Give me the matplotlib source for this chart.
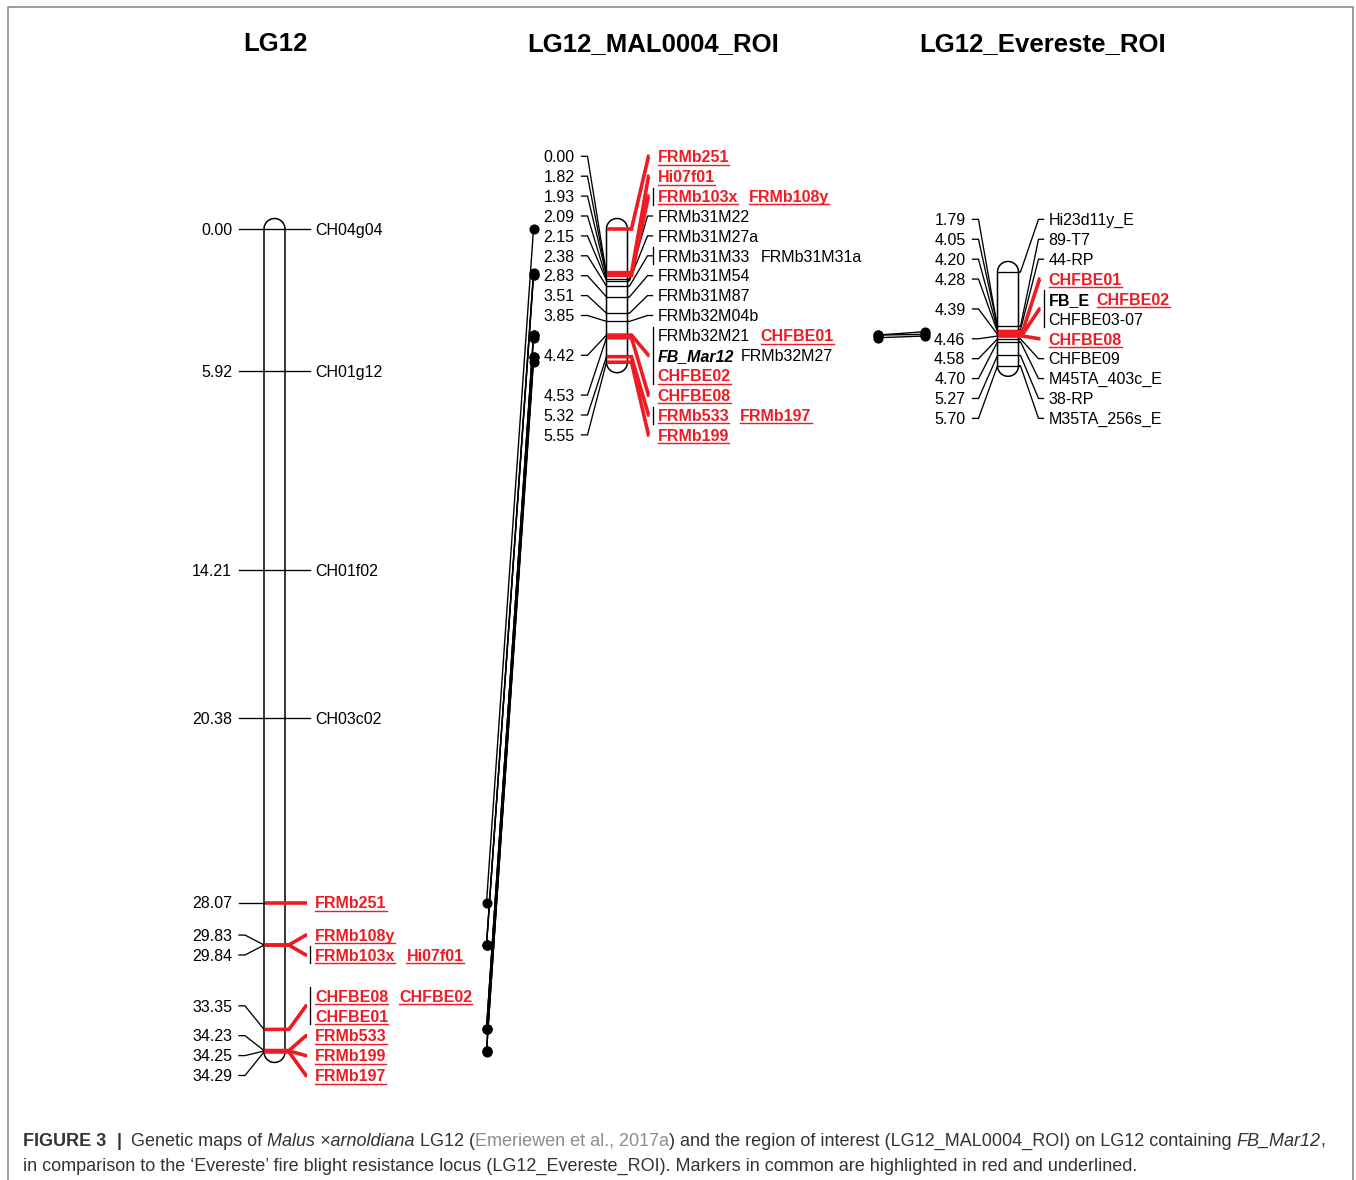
import matplotlib
matplotlib.use("Agg")
import matplotlib.pyplot as plt
import numpy as np

# ---------------- data ----------------
map_titles = ["LG12", "LG12_MAL0004_ROI", "LG12_Evereste_ROI"]

lg12_pos = [0.00, 5.92, 14.21, 20.38, 28.07, 29.83, 29.84, 33.35, 34.23, 34.25, 34.29]
lg12_names = [["CH04g04"], ["CH01g12"], ["CH01f02"], ["CH03c02"], ["FRMb251"],
              ["FRMb108y"], ["FRMb103x", "Hi07f01"], ["CHFBE08", "CHFBE02", "CHFBE01"],
              ["FRMb533"], ["FRMb199"], ["FRMb197"]]
lg12_left_anchor = [0.00, 5.92, 14.21, 20.38, 28.07, 29.83, 29.84, 33.35, 34.23, 34.25, 34.29]

mal_pos = [0.00, 1.82, 1.93, 2.09, 2.15, 2.38, 2.83, 3.51, 3.85, 4.42, 4.53, 5.32, 5.55]
mal_names = [["FRMb251"], ["Hi07f01"], ["FRMb103x", "FRMb108y"], ["FRMb31M22"], ["FRMb31M27a"],
             ["FRMb31M33", "FRMb31M31a"], ["FRMb31M54"], ["FRMb31M87"], ["FRMb32M04b"],
             ["FRMb32M21", "CHFBE01", "FB_Mar12", "FRMb32M27", "CHFBE02"], ["CHFBE08"],
             ["FRMb533", "FRMb197"], ["FRMb199"]]
mal_left_anchor = [1.90, 1.92, 1.93, 2.09, 2.15, 2.38, 2.83, 3.51, 3.85, 4.42, 4.53, 5.32, 5.55]

ev_pos = [1.79, 4.05, 4.20, 4.28, 4.39, 4.46, 4.58, 4.70, 5.27, 5.70]
ev_names = [["Hi23d11y_E"], ["89-T7"], ["44-RP"], ["CHFBE01"], ["FB_E", "CHFBE02", "CHFBE03-07"],
            ["CHFBE08"], ["CHFBE09"], ["M45TA_403c_E"], ["38-RP"], ["M35TA_256s_E"]]
ev_left_anchor = [4.10, 4.05, 4.20, 4.28, 4.39, 4.46, 4.58, 4.70, 5.27, 5.70]

bold_italic_markers = ["FB_Mar12"]
bold_markers = ["FB_E"]

caption_line1 = [("FIGURE 3", "bold"), ("  |  ", "bold"), ("Genetic maps of ", "normal"),
                 ("Malus \u00d7arnoldiana", "italic"), (" LG12 (", "normal"),
                 ("Emeriewen et al., 2017a", "link"),
                 (") and the region of interest (LG12_MAL0004_ROI) on LG12 containing ", "normal"),
                 ("FB_Mar12", "italic"), (",", "normal")]
caption_line2 = [("in comparison to the \u2018Evereste\u2019 fire blight resistance locus "
                  "(LG12_Evereste_ROI). Markers in common are highlighted in red and underlined.", "normal")]

# ---------------- figure ----------------
W, H = 1356, 1180
fig = plt.figure(figsize=(W / 100, H / 100), dpi=100)
ax = fig.add_axes([0, 0, 1, 1])
ax.set_xlim(0, W)
ax.set_ylim(H, 0)
ax.axis("off")
renderer = fig.canvas.get_renderer()

FONT = "Liberation Sans"
RED = "#ED1C24"
FS = 11.5
PX = 100 / 72.0
BASE = 0.36 * FS * PX
Y0, PX_PER_CM = 229.0, 24.0
STEP = 19.9
CW = 21.0
LW = 0.95


def ycm(v):
    return Y0 + PX_PER_CM * v


def twidth(t):
    return t.get_window_extent(renderer=renderer).width


# frame
ax.plot([8, 8, 1353, 1353], [H, 7, 7, H], color="#8c8c8c", lw=1.2, zorder=1)


def chrom_outline(cl, cr, ytop, ybot):
    r = (cr - cl) / 2
    cx = (cl + cr) / 2
    th = np.linspace(np.pi, 0, 40)
    top = np.c_[cx + r * np.cos(th), ytop - r * np.sin(th)]
    th2 = np.linspace(0, np.pi, 40)
    bot = np.c_[cx + r * np.cos(th2), ybot + r * np.sin(th2)]
    pts = np.vstack([top, bot, top[:1]])
    ax.fill(pts[:, 0], pts[:, 1], facecolor="white", edgecolor="black", lw=1.1, zorder=2)


def layout(prefs, nrows):
    n = len(prefs)
    clusters = [[i, i] for i in range(n)]

    def place(c):
        a, b = c
        offs, acc = [], 0.0
        for i in range(a, b + 1):
            offs.append(acc + (nrows[i] - 1) / 2 * STEP)
            acc += nrows[i] * STEP
        top = (prefs[a] + prefs[b]) / 2 - (offs[0] + offs[-1]) / 2
        return top, offs, acc

    changed = True
    while changed:
        changed = False
        for k in range(len(clusters) - 1):
            t1, _, h1 = place(clusters[k])
            t2, _, _ = place(clusters[k + 1])
            if t2 < t1 + h1 - 0.01:
                clusters[k] = [clusters[k][0], clusters[k + 1][1]]
                del clusters[k + 1]
                changed = True
                break
    centers, rows = [0] * n, [None] * n
    for c in clusters:
        top, offs, _ = place(c)
        acc = 0.0
        for j, i in enumerate(range(c[0], c[1] + 1)):
            centers[i] = top + offs[j]
            rows[i] = [top + acc + r * STEP for r in range(nrows[i])]
            acc += nrows[i] * STEP
    return centers, rows


def style_of(name, red):
    if red:
        return dict(color=RED, weight="bold", style="normal"), 11
    if name in bold_italic_markers:
        return dict(color="black", weight="bold", style="italic"), 7
    if name in bold_markers:
        return dict(color="black", weight="bold", style="normal"), 7
    return dict(color="black", weight="normal", style="normal"), 11


maps = [
    dict(title=map_titles[0], pos=lg12_pos, names=lg12_names, anchor=lg12_left_anchor, cl=264.0, tx=275),
    dict(title=map_titles[1], pos=mal_pos, names=mal_names, anchor=mal_left_anchor, cl=606.5, tx=653),
    dict(title=map_titles[2], pos=ev_pos, names=ev_names, anchor=ev_left_anchor, cl=997.5, tx=1043),
]


def all_names(m):
    return {n for grp in m["names"] for n in grp}


for mi, m in enumerate(maps):
    others = set()
    for mj, o in enumerate(maps):
        if mj != mi:
            others |= all_names(o)
    cl = m["cl"]
    cr = cl + CW
    pos, names = m["pos"], m["names"]
    prefs = [ycm(p) for p in pos]
    nrows = [int(np.ceil(len(g) / 2)) for g in names]
    centers, rows = layout(prefs, nrows)

    ax.text(m["tx"], 51, m["title"], ha="center", va="baseline", fontsize=18.5,
            weight="bold", family=FONT)
    chrom_outline(cl, cr, ycm(min(pos)), ycm(max(pos)))

    for i, p in enumerate(pos):
        grp = names[i]
        red = any(n in others for n in grp)
        py, ly = ycm(p), centers[i]
        ax.text(cl - 32, ly + BASE, f"{p:.2f}", ha="right", va="baseline", fontsize=FS,
                family=FONT, color="black")
        ax.plot([cl - 25, cl - 19, cl], [ly, ly, ycm(m["anchor"][i])], color="black",
                lw=LW, zorder=3, solid_joinstyle="miter")
        if red:
            ax.plot([cl + 0.6, cr + 4, cr + 21, cr + 22], [py, py, ly, ly], color=RED, lw=2.6,
                    zorder=5, solid_capstyle="butt", solid_joinstyle="miter")
        else:
            ax.plot([cl, cr], [py, py], color="black", lw=LW, zorder=3)
            ax.plot([cr, cr + 2, cr + 20, cr + 25], [py, py, ly, ly], color="black", lw=LW,
                    zorder=3)
        if len(grp) > 1:
            ax.plot([cr + 25, cr + 25], [rows[i][0] - 8.5, rows[i][-1] + 8.5], color="black",
                    lw=LW, zorder=3)
        for r in range(nrows[i]):
            x = cr + 30
            yb = rows[i][r] + BASE
            for name in grp[2 * r:2 * r + 2]:
                is_red = name in others
                st, gap = style_of(name, is_red)
                t = ax.text(x, yb, name, ha="left", va="baseline", fontsize=FS, family=FONT, **st)
                w = twidth(t)
                if is_red:
                    ax.plot([x, x + w], [yb + 2.6, yb + 2.6], color=RED, lw=1.0, zorder=3)
                x += w + gap

# ---------------- connections between maps ----------------
def locus_of(m, name):
    for p, g in zip(m["pos"], m["names"]):
        if name in g:
            return p
    return None


for a, b in [(0, 1), (1, 2)]:
    ma, mb = maps[a], maps[b]
    xa, xb = mb["cl"] - 120, mb["cl"] - 73
    common = [n for g in ma["names"] for n in g if n in all_names(mb)]
    for n in common:
        ya, yb = ycm(locus_of(ma, n)), ycm(locus_of(mb, n))
        ax.plot([xa, xb], [ya, yb], color="black", lw=1.0, zorder=3)
        ax.plot([xa, xb], [ya, yb], "o", color="black", ms=6.3, zorder=4)

# ---------------- caption ----------------
CAP_COL = "#333333"
LINK_COL = "#8c8c8c"


def piece_style(kind):
    if kind == "bold":
        return dict(weight="bold", color=CAP_COL, style="normal")
    if kind == "italic":
        return dict(weight="normal", color=CAP_COL, style="italic")
    if kind == "link":
        return dict(weight="normal", color=LINK_COL, style="normal")
    return dict(weight="normal", color=CAP_COL, style="normal")


def draw_rich(x, y, pieces, fs, draw=True):
    ta = ax.text(0, 0, "a a", fontsize=fs, family=FONT)
    tb = ax.text(0, 0, "aa", fontsize=fs, family=FONT)
    sp = twidth(ta) - twidth(tb)
    ta.remove()
    tb.remove()
    x0 = x
    for txt, kind in pieces:
        lead = len(txt) - len(txt.lstrip(" "))
        trail = len(txt) - len(txt.rstrip(" "))
        core = txt.strip(" ")
        x += lead * sp
        if core:
            t = ax.text(x, y, core, ha="left", va="baseline", fontsize=fs, family=FONT,
                        **piece_style(kind))
            x += twidth(t)
            if not draw:
                t.remove()
        x += trail * sp
    return x - x0


w_test = draw_rich(0, 0, caption_line1, 12, draw=False)
cap_fs = 12 * 1300.0 / w_test
draw_rich(23, 1146, caption_line1, cap_fs)
draw_rich(23, 1171, caption_line2, cap_fs)

fig.savefig("out.png", dpi=100)
